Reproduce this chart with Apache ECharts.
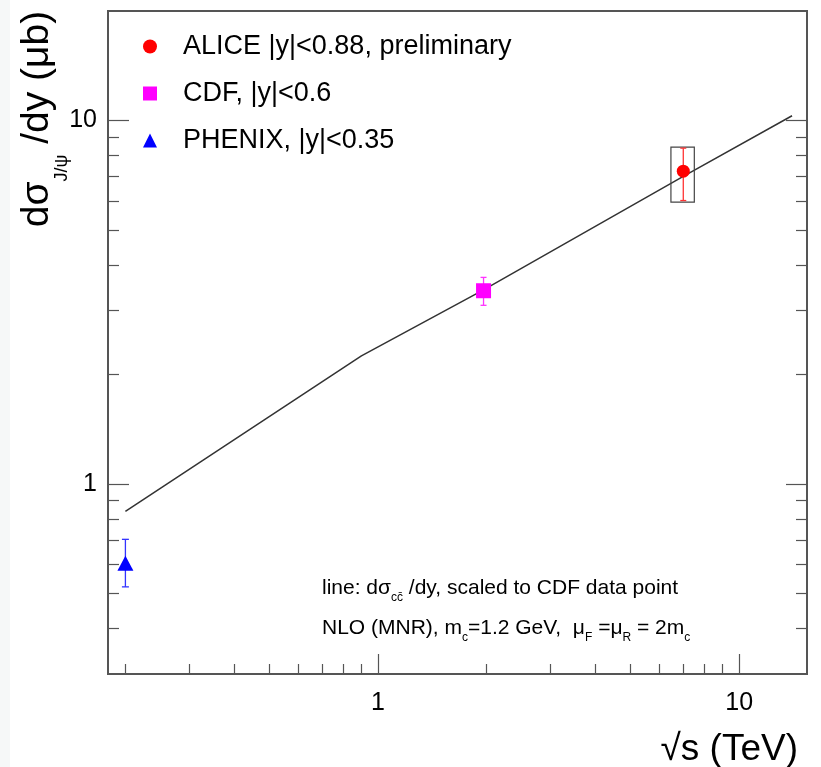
<!DOCTYPE html>
<html>
<head>
<meta charset="utf-8">
<script src="https://cdn.jsdelivr.net/npm/echarts@6/dist/echarts.min.js"></script>
<style>
  html, body { margin: 0; padding: 0; background: #fff; }
  #strip { position: absolute; left: 0; top: 0; width: 10px; height: 767px; background: #f6f8f8; }
  #chart { width: 821px; height: 767px; }
</style>
</head>
<body>
<div id="strip"></div>
<div id="chart"></div>
<script>
// ALICE |y|<0.88 (7 TeV)
const aliceX = [7.0];
const aliceY = [7.25];
const aliceStatLo = [6.02];
const aliceStatHi = [8.39];
const aliceSysLo = [5.96];
const aliceSysHi = [8.44];
const aliceBoxXLo = [6.47];
const aliceBoxXHi = [7.51];
// CDF |y|<0.6 (1.96 TeV)
const cdfX = [1.96];
const cdfY = [3.40];
const cdfErrLo = [3.10];
const cdfErrHi = [3.70];
// PHENIX |y|<0.35 (0.2 TeV)
const phenixX = [0.2];
const phenixY = [0.605];
const phenixErrLo = [0.521];
const phenixErrHi = [0.704];
// NLO line, scaled to CDF
const nloX = [0.2, 0.9, 1.96, 7, 14];
const nloY = [0.84, 2.25, 3.42, 7.02, 10.3];
// ticks
const xMajorTicks = [1, 10];
const xMinorTicks = [0.2, 0.3, 0.4, 0.5, 0.6, 0.7, 0.8, 0.9, 2, 3, 4, 5, 6, 7, 8, 9];
const yMajorTicks = [1, 10];
const yMinorTicks = [0.4, 0.5, 0.6, 0.7, 0.8, 0.9, 2, 3, 4, 5, 6, 7, 8, 9];

const X_MIN = 0.179, X_MAX = 15.4, Y_MIN = 0.3, Y_MAX = 20;
const FRAME = '#555';
const FONT = '"Liberation Sans", Arial, sans-serif';

var chart = echarts.init(document.getElementById('chart'));

function zip(a, b) { return a.map((v, i) => [v, b[i]]); }
function zip3(a, b, c) { return a.map((v, i) => [v, b[i], c[i]]); }

function errorBars(color, cap) {
  return function (params, api) {
    var x = api.value(0);
    var lo = api.coord([x, api.value(1)]);
    var hi = api.coord([x, api.value(2)]);
    var style = { stroke: color, lineWidth: 1.3 };
    return {
      type: 'group',
      children: [
        { type: 'line', shape: { x1: lo[0], y1: lo[1], x2: hi[0], y2: hi[1] }, style: style },
        { type: 'line', shape: { x1: hi[0] - cap, y1: hi[1], x2: hi[0] + cap, y2: hi[1] }, style: style },
        { type: 'line', shape: { x1: lo[0] - cap, y1: lo[1], x2: lo[0] + cap, y2: lo[1] }, style: style }
      ]
    };
  };
}

function xAxisOf(ticks, len, labels) {
  return {
    type: 'log', min: X_MIN, max: X_MAX, position: 'bottom',
    axisLine: { show: true, lineStyle: { color: FRAME, width: 2 } },
    axisTick: { show: true, inside: true, length: len, customValues: ticks, lineStyle: { color: FRAME, width: 1.2 } },
    axisLabel: labels
      ? { show: true, customValues: xMajorTicks, margin: 17, fontSize: 25, color: '#000', fontFamily: FONT, formatter: v => String(v) }
      : { show: false },
    splitLine: { show: false }, minorTick: { show: false }
  };
}

function yAxisOf(pos, ticks, len, labels) {
  return {
    type: 'log', min: Y_MIN, max: Y_MAX, position: pos,
    axisLine: { show: true, lineStyle: { color: FRAME, width: 2 } },
    axisTick: { show: true, inside: true, length: len, customValues: ticks, lineStyle: { color: FRAME, width: 1.2 } },
    axisLabel: labels
      ? { show: true, customValues: yMajorTicks, margin: 11, fontSize: 25, color: '#000', fontFamily: FONT, formatter: v => String(v) }
      : { show: false },
    splitLine: { show: false }, minorTick: { show: false }
  };
}

var option = {
  animation: false,
  backgroundColor: 'transparent',
  grid: { left: 108, right: 14, top: 11, bottom: 93, show: true, borderColor: FRAME, borderWidth: 2, backgroundColor: '#fff' },
  xAxis: [
    xAxisOf(xMajorTicks, 20, true),
    xAxisOf(xMinorTicks, 10, false)
  ],
  yAxis: [
    yAxisOf('left', yMajorTicks, 21, true),
    yAxisOf('left', yMinorTicks, 11, false),
    yAxisOf('right', yMajorTicks, 21, false),
    yAxisOf('right', yMinorTicks, 11, false)
  ],
  legend: {
    orient: 'vertical', left: 138, top: 28,
    itemWidth: 14, itemHeight: 14, itemGap: 20,
    textStyle: { fontSize: 27, color: '#000', fontFamily: FONT, padding: [0, 0, 0, 21] },
    data: [
      { name: 'ALICE |y|<0.88, preliminary', icon: 'circle' },
      { name: 'CDF, |y|<0.6', icon: 'rect' },
      { name: 'PHENIX, |y|<0.35', icon: 'triangle' }
    ]
  },
  series: [
    {
      name: 'NLO', type: 'line', data: zip(nloX, nloY), symbol: 'none',
      lineStyle: { color: '#333', width: 1.5 }, z: 2
    },
    {
      name: 'ALICE sys', type: 'custom', z: 3,
      data: aliceX.map((v, i) => [aliceBoxXLo[i], aliceSysLo[i], aliceBoxXHi[i], aliceSysHi[i]]),
      renderItem: function (params, api) {
        var p0 = api.coord([api.value(0), api.value(3)]);
        var p1 = api.coord([api.value(2), api.value(1)]);
        return { type: 'rect', shape: { x: p0[0], y: p0[1], width: p1[0] - p0[0], height: p1[1] - p0[1] },
          style: { fill: 'none', stroke: '#444', lineWidth: 1.2 } };
      }
    },
    { name: 'ALICE err', type: 'custom', z: 4, data: zip3(aliceX, aliceStatLo, aliceStatHi), renderItem: errorBars('#ff3333', 3) },
    { name: 'CDF err', type: 'custom', z: 4, data: zip3(cdfX, cdfErrLo, cdfErrHi), renderItem: errorBars('#ff33ff', 3) },
    { name: 'PHENIX err', type: 'custom', z: 4, data: zip3(phenixX, phenixErrLo, phenixErrHi), renderItem: errorBars('#3333ff', 3.5) },
    {
      name: 'ALICE |y|<0.88, preliminary', type: 'scatter', z: 5, data: zip(aliceX, aliceY),
      symbol: 'circle', symbolSize: 13, itemStyle: { color: '#ff0000', opacity: 1 }
    },
    {
      name: 'CDF, |y|<0.6', type: 'scatter', z: 5, data: zip(cdfX, cdfY),
      symbol: 'rect', symbolSize: 15, itemStyle: { color: '#ff00ff', opacity: 1 }
    },
    {
      name: 'PHENIX, |y|<0.35', type: 'scatter', z: 5, data: zip(phenixX, phenixY),
      symbol: 'triangle', symbolSize: [16, 15], itemStyle: { color: '#0000ff', opacity: 1 }
    }
  ],
  graphic: [
    {
      type: 'text', x: 37, y: 119, rotation: Math.PI / 2,
      style: {
        text: '{m|dσ}{s|J/ψ}{m| /dy (μb)}',
        align: 'center', verticalAlign: 'middle', fill: '#000',
        rich: {
          m: { fontSize: 39, fontFamily: FONT, lineHeight: 68, verticalAlign: 'middle' },
          s: { fontSize: 18, fontFamily: FONT, verticalAlign: 'bottom', lineHeight: 18 }
        }
      }
    },
    {
      type: 'text', x: 798, y: 750,
      style: {
        text: '√s (TeV)', align: 'right', verticalAlign: 'middle', fill: '#000',
        fontSize: 37, fontFamily: FONT
      }
    },
    {
      type: 'text', x: 322, y: 588,
      style: {
        text: '{m|line: dσ}{s|cc̄}{m| /dy, scaled to CDF data point}',
        align: 'left', verticalAlign: 'middle', fill: '#000',
        rich: {
          m: { fontSize: 21, fontFamily: FONT, lineHeight: 32, verticalAlign: 'middle' },
          s: { fontSize: 12, fontFamily: FONT, lineHeight: 12, verticalAlign: 'bottom' }
        }
      }
    },
    {
      type: 'text', x: 322, y: 628,
      style: {
        text: '{m|NLO (MNR), m}{s|c}{m|=1.2 GeV,  μ}{s|F}{m| =μ}{s|R}{m| = 2m}{s|c}',
        align: 'left', verticalAlign: 'middle', fill: '#000',
        rich: {
          m: { fontSize: 21, fontFamily: FONT, lineHeight: 32, verticalAlign: 'middle' },
          s: { fontSize: 12, fontFamily: FONT, lineHeight: 12, verticalAlign: 'bottom' }
        }
      }
    }
  ]
};

chart.setOption(option);
</script>
</body>
</html>
